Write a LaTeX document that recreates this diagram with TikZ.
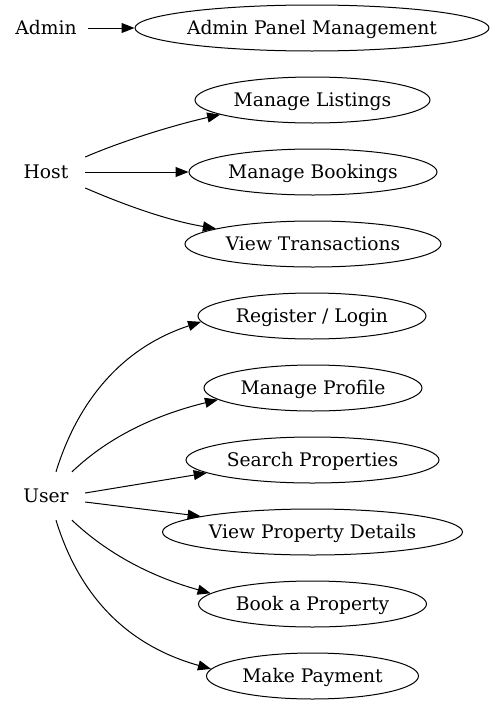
\documentclass[tikz,border=0pt]{standalone}
\usepackage{fontspec}
\setmainfont{DejaVu Serif}
\usetikzlibrary{shapes.geometric,arrows.meta}
\begin{document}
\begin{tikzpicture}[x=1pt,y=-1pt,
  every node/.style={font=\fontsize{18.7}{22}\selectfont,text height=17pt,text depth=4.5pt},
  uc/.style={draw,ellipse,line width=1pt,minimum height=46pt,inner sep=0pt},
  actor/.style={inner sep=0pt,minimum width=78pt,minimum height=48pt},
  conn/.style={line width=1pt,-{Triangle[length=13pt,width=10pt]}}]
\useasboundingbox (0,0) rectangle (495,707);
% actors
\node[actor,minimum width=84pt] (admin) at (46,28) {Admin};
\node[actor] (host) at (46,172) {Host};
\node[actor] (user) at (46,496) {User};
% use cases
\node[uc,minimum width=354pt] (apm) at (312,28) {Admin Panel Management};
\node[uc,minimum width=235pt] (lis) at (312.5,100) {Manage Listings};
\node[uc,minimum width=248pt] (boo) at (313,172) {Manage Bookings};
\node[uc,minimum width=256pt] (tra) at (313,244) {View Transactions};
\node[uc,minimum width=228pt] (reg) at (312,316) {Register / Login};
\node[uc,minimum width=218pt] (pro) at (313,388) {Manage Profile};
\node[uc,minimum width=253pt] (sea) at (312.5,460) {Search Properties};
\node[uc,minimum width=300pt] (det) at (312.5,532) {View Property Details};
\node[uc,minimum width=228pt] (bk) at (312.5,604) {Book a Property};
\node[uc,minimum width=212pt] (pay) at (312.5,676) {Make Payment};
% admin
\draw[conn] (admin) -- (apm);
% host
\draw[conn] ([yshift=15pt]host.east) .. controls (120,142) and (170,126) .. (lis.189.4);
\draw[conn] (host.east) -- (boo.west);
\draw[conn] ([yshift=-16pt]host.east) .. controls (120,203) and (165,220) .. (tra.171.2);
% user
\draw[conn] ([xshift=10pt]user.north) .. controls (75,410) and (115,350) .. (reg.183.9);
\draw[conn] ([xshift=26pt]user.north) .. controls (95,450) and (135,420) .. (pro.187.7);
\draw[conn] ([yshift=3pt]user.east) -- (sea.187.5);
\draw[conn] ([yshift=-6pt]user.east) -- (det.172.4);
\draw[conn] ([xshift=26pt]user.south) .. controls (95,542) and (135,572) .. (bk.174.8);
\draw[conn] ([xshift=10pt]user.south) .. controls (75,582) and (115,642) .. (pay.176.6);
\end{tikzpicture}
\end{document}
